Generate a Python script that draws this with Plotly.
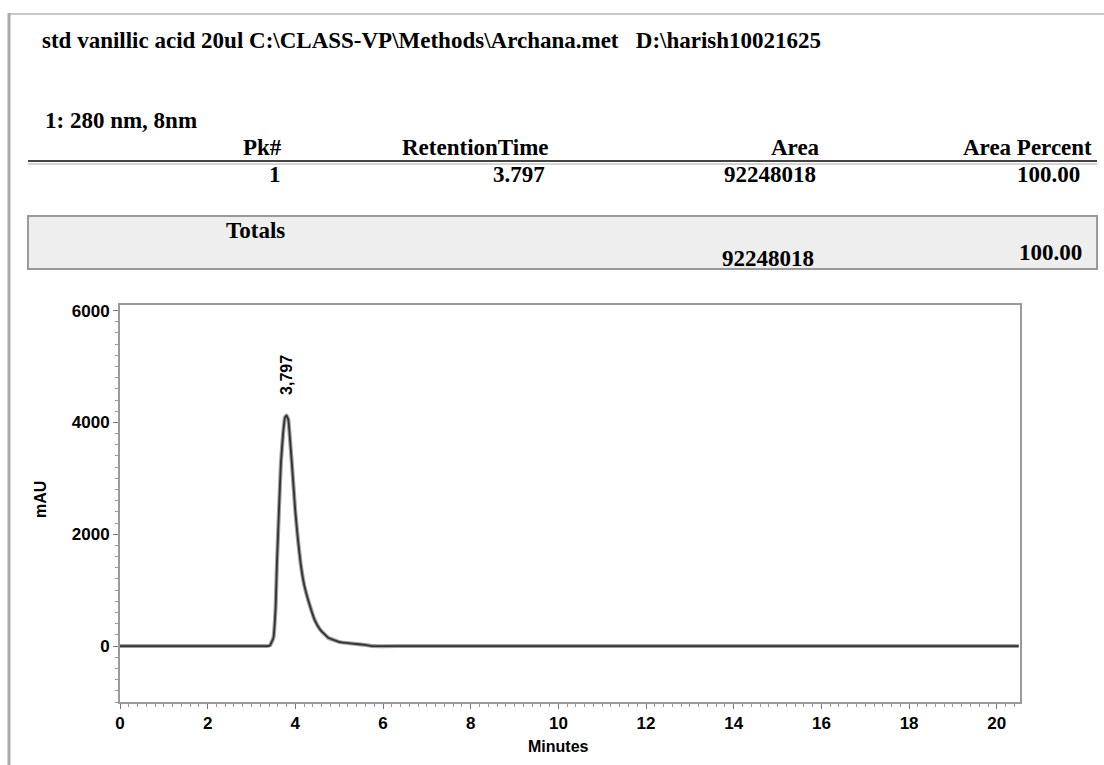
import plotly.graph_objects as go

# ---- data ----
time_min = [0.0, 1.5, 3.0, 3.35, 3.42, 3.50, 3.55, 3.58, 3.63, 3.67, 3.72, 3.76, 3.797, 3.84, 3.88,
            3.92, 4.00, 4.06, 4.12, 4.20, 4.34, 4.45, 4.57, 4.75, 5.02, 5.30, 5.60, 5.75, 6.5, 10.0, 15.0, 20.5]
mau = [0, 0, 0, 0, 10, 150, 700, 1480, 2500, 3270, 3800, 4080, 4125, 4050, 3680,
       3270, 2400, 1900, 1480, 1100, 700, 450, 290, 150, 70, 45, 20, 0, 0, 0, 0, 0]
peak_rt = 3.797
peak_label = "3,797"
x_ticks = [0, 2, 4, 6, 8, 10, 12, 14, 16, 18, 20]
y_ticks = [0, 2000, 4000, 6000]

title_text = "std vanillic acid 20ul C:\\CLASS-VP\\Methods\\Archana.met   D:\\harish10021625"
channel_text = "1: 280 nm, 8nm"
headers = ["Pk#", "RetentionTime", "Area", "Area Percent"]
row1 = ["1", "3.797", "92248018", "100.00"]
totals_label = "Totals"
totals_area = "92248018"
totals_pct = "100.00"

W, H = 1104, 765
ML, MR, MT, MB = 120, 84, 305, 63
PW = W - ML - MR
PH = H - MT - MB


def px(x):
    return (x - ML) / PW


def py(y):
    return (H - MB - y) / PH


serif = dict(family="Liberation Serif, Times New Roman, serif", color="black", weight="bold")
sans = dict(family="Liberation Sans, Arial, sans-serif", color="black", weight="bold")

fig = go.Figure()
fig.add_trace(go.Scatter(x=time_min, y=mau, mode="lines",
                         line=dict(color="#a0a0a0", width=4, shape="spline", smoothing=0.3),
                         hoverinfo="skip", showlegend=False))
fig.add_trace(go.Scatter(x=time_min, y=mau, mode="lines",
                         line=dict(color="#333333", width=1.8, shape="spline", smoothing=0.3),
                         showlegend=False))

ann = []


def text(x, y, s, size, anchor="left", font=serif):
    ann.append(dict(xref="paper", yref="paper", x=px(x), y=py(y), text=s, showarrow=False,
                    xanchor=anchor, yanchor="middle", font=dict(size=size, **font)))


FS = 23
text(40, 40, title_text, FS)
text(43, 120, channel_text, FS)
hdr_right = [284, 551, 822, 1094]
row_right = [283, 547, 818, 1082]
for r, s in zip(hdr_right, headers):
    text(r, 147, s, FS, "right")
for r, s in zip(row_right, row1):
    text(r, 174, s, FS, "right")
text(287, 230, totals_label, FS, "right")
text(816, 258, totals_area, FS, "right")
text(1084, 252, totals_pct, FS, "right")

ann.append(dict(x=peak_rt, y=max(mau), xref="x", yref="y", text=peak_label, textangle=-90,
                showarrow=False, xanchor="center", yanchor="bottom", yshift=19,
                font=dict(size=16, **sans)))
text(40, 500, "mAU", 16, "center", sans)
ann[-1]["textangle"] = -90
text(558, 746, "Minutes", 16, "center", sans)

shapes = [
    # outer frame
    dict(type="line", xref="paper", yref="paper", x0=px(9), x1=px(W), y0=py(14), y1=py(14),
         line=dict(color="#c8c8c8", width=2)),
    dict(type="line", xref="paper", yref="paper", x0=px(9), x1=px(9), y0=py(13), y1=py(H),
         line=dict(color="#aaaaaa", width=3)),
    # header double rule
    dict(type="line", xref="paper", yref="paper", x0=px(28), x1=px(1097), y0=py(161), y1=py(161),
         line=dict(color="#444444", width=2)),
    dict(type="line", xref="paper", yref="paper", x0=px(28), x1=px(1097), y0=py(164), y1=py(164),
         line=dict(color="#aaaaaa", width=1)),
    # totals box
    dict(type="rect", xref="paper", yref="paper", x0=px(28), x1=px(1097), y0=py(216), y1=py(269),
         line=dict(color="#9a9a9a", width=2), fillcolor="#eeeeee", layer="below"),
]

axis_common = dict(showgrid=False, zeroline=False, showline=True, linecolor="#9a9a9a", linewidth=2,
                   mirror=True, ticks="outside", ticklen=5, tickwidth=1, tickcolor="#777777",
                   tickfont=dict(size=17, **sans))

fig.update_layout(
    width=W, height=H, margin=dict(l=ML, r=MR, t=MT, b=MB),
    paper_bgcolor="white", plot_bgcolor="white",
    annotations=ann, shapes=shapes,
    xaxis=dict(range=[0, 20.53], tickvals=x_ticks, ticktext=[str(v) for v in x_ticks],
               minor=dict(dtick=0.2, tick0=0, ticks="outside", ticklen=3, tickcolor="#999999"),
               **axis_common),
    yaxis=dict(range=[-1000, 6100], tickvals=y_ticks, ticktext=[str(v) for v in y_ticks],
               minor=dict(dtick=200, tick0=0, ticks="outside", ticklen=3, tickcolor="#999999"),
               **axis_common),
)

fig.write_html("out.html")
